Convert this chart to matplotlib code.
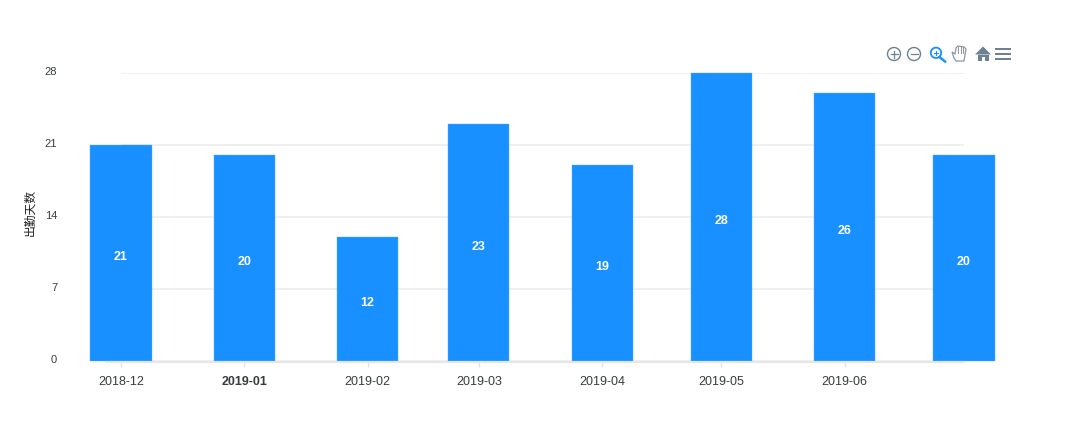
import matplotlib
matplotlib.use("Agg")
import matplotlib.pyplot as plt
import matplotlib.dates as mdates
from matplotlib.patches import Circle, Polygon, Rectangle
from matplotlib.lines import Line2D
from matplotlib.transforms import ScaledTranslation
from datetime import datetime

plt.rcParams['font.family'] = ['Liberation Sans', 'Noto Sans CJK SC', 'DejaVu Sans']

months = ["2018-12", "2019-01", "2019-02", "2019-03", "2019-04", "2019-05", "2019-06", "2019-07"]
days = [21, 20, 12, 23, 19, 28, 26, 20]
tick_labels = ["2018-12", "2019-01", "2019-02", "2019-03", "2019-04", "2019-05", "2019-06"]
y_ticks = [0, 7, 14, 21, 28]

W, H = 1090, 427
BLUE = "#1890ff"
GRID = "#eeeeee"
ICON = "#6e8192"

fig = plt.figure(figsize=(W / 100, H / 100), dpi=100)
ax = fig.add_axes([121 / W, 1 - 361.8 / H, (964 - 121) / W, (361.8 - 73.5) / H])

dates = [datetime.strptime(m, "%Y-%m") for m in months]
x = mdates.date2num(dates)

ax.bar(x, days, width=15.35, color=BLUE, edgecolor="#5aaeff", linewidth=0.3, clip_on=False, zorder=3)
for xi, d in zip(x, days):
    ax.annotate(str(d), (xi, d / 2), xytext=(0, -2.5), textcoords="offset points", color="white",
                fontsize=9, fontweight="bold", ha="center", va="center", zorder=4)

ax.set_xlim(x[0], x[-1])
ax.set_ylim(0, 28)
ax.set_yticks(y_ticks)
ax.set_xticks(x[:-1])
ax.set_xticklabels(tick_labels)
ax.get_xticklabels()[1].set_fontweight("bold")
ax.tick_params(axis="x", length=4, color="#e3e3e3", width=1, labelsize=9, labelcolor="#373d3f", pad=6)
ax.tick_params(axis="y", length=0, labelsize=8, labelcolor="#373d3f", pad=46)
ax.grid(axis="y", color=GRID, linewidth=1.2, zorder=0)
ax.set_axisbelow(True)
for s in ax.spines.values():
    s.set_visible(False)
for label in ax.get_yticklabels():
    label.set_transform(label.get_transform() + ScaledTranslation(0, 2.5 / 100, fig.dpi_scale_trans))
fig.add_artist(Line2D([106 / W, 964 / W], [1 - 362.6 / H] * 2, color="#e6e6e6", linewidth=1.5, zorder=2))

fig.text(30 / W, 1 - 212.5 / H, "出勤天数", rotation=90, fontsize=8.5, color="#222222",
         ha="center", va="center")

# toolbar icons, drawn in pixel coordinates
icons = fig.add_axes([0, 0, 1, 1], facecolor="none")
icons.set_xlim(0, W)
icons.set_ylim(H, 0)
icons.axis("off")
for cx in (894, 914):
    icons.add_patch(Circle((cx, 55), 6.5, fill=False, ec=ICON, lw=1.0))
    icons.plot([cx - 3.5, cx + 3.5], [55, 55], color=ICON, lw=0.9)
icons.plot([894, 894], [51.5, 58.5], color=ICON, lw=0.9)
icons.add_patch(Circle((936, 53.8), 5.2, fill=False, ec=BLUE, lw=1.3))
icons.plot([939.5, 945], [58, 62.5], color=BLUE, lw=1.8)
icons.plot([934, 938], [53.8, 53.8], color=BLUE, lw=0.8)
icons.plot([936, 936], [51.8, 55.8], color=BLUE, lw=0.8)
hand = [(952, 53), (954, 59), (956, 62), (964, 62), (966, 50), (964, 48), (958, 47), (956, 49), (955, 55)]
icons.add_patch(Polygon(hand, closed=True, fill=False, ec="#8a97a3", lw=0.9))
for hx in (958, 960.5, 963):
    icons.plot([hx, hx], [47.5, 54], color="#8a97a3", lw=0.7)
icons.add_patch(Polygon([(975, 55.5), (983, 47.5), (991, 55.5)], closed=True, color=ICON, lw=0))
icons.add_patch(Rectangle((977.5, 55.5), 11, 6.5, color=ICON, lw=0))
icons.add_patch(Rectangle((981.5, 58), 3, 4, color="white", lw=0))
for ly in (50, 54.7, 59.5):
    icons.add_patch(Rectangle((995, ly - 1), 16, 2, color=ICON, lw=0))

fig.savefig("out.png", dpi=100, facecolor="white")
